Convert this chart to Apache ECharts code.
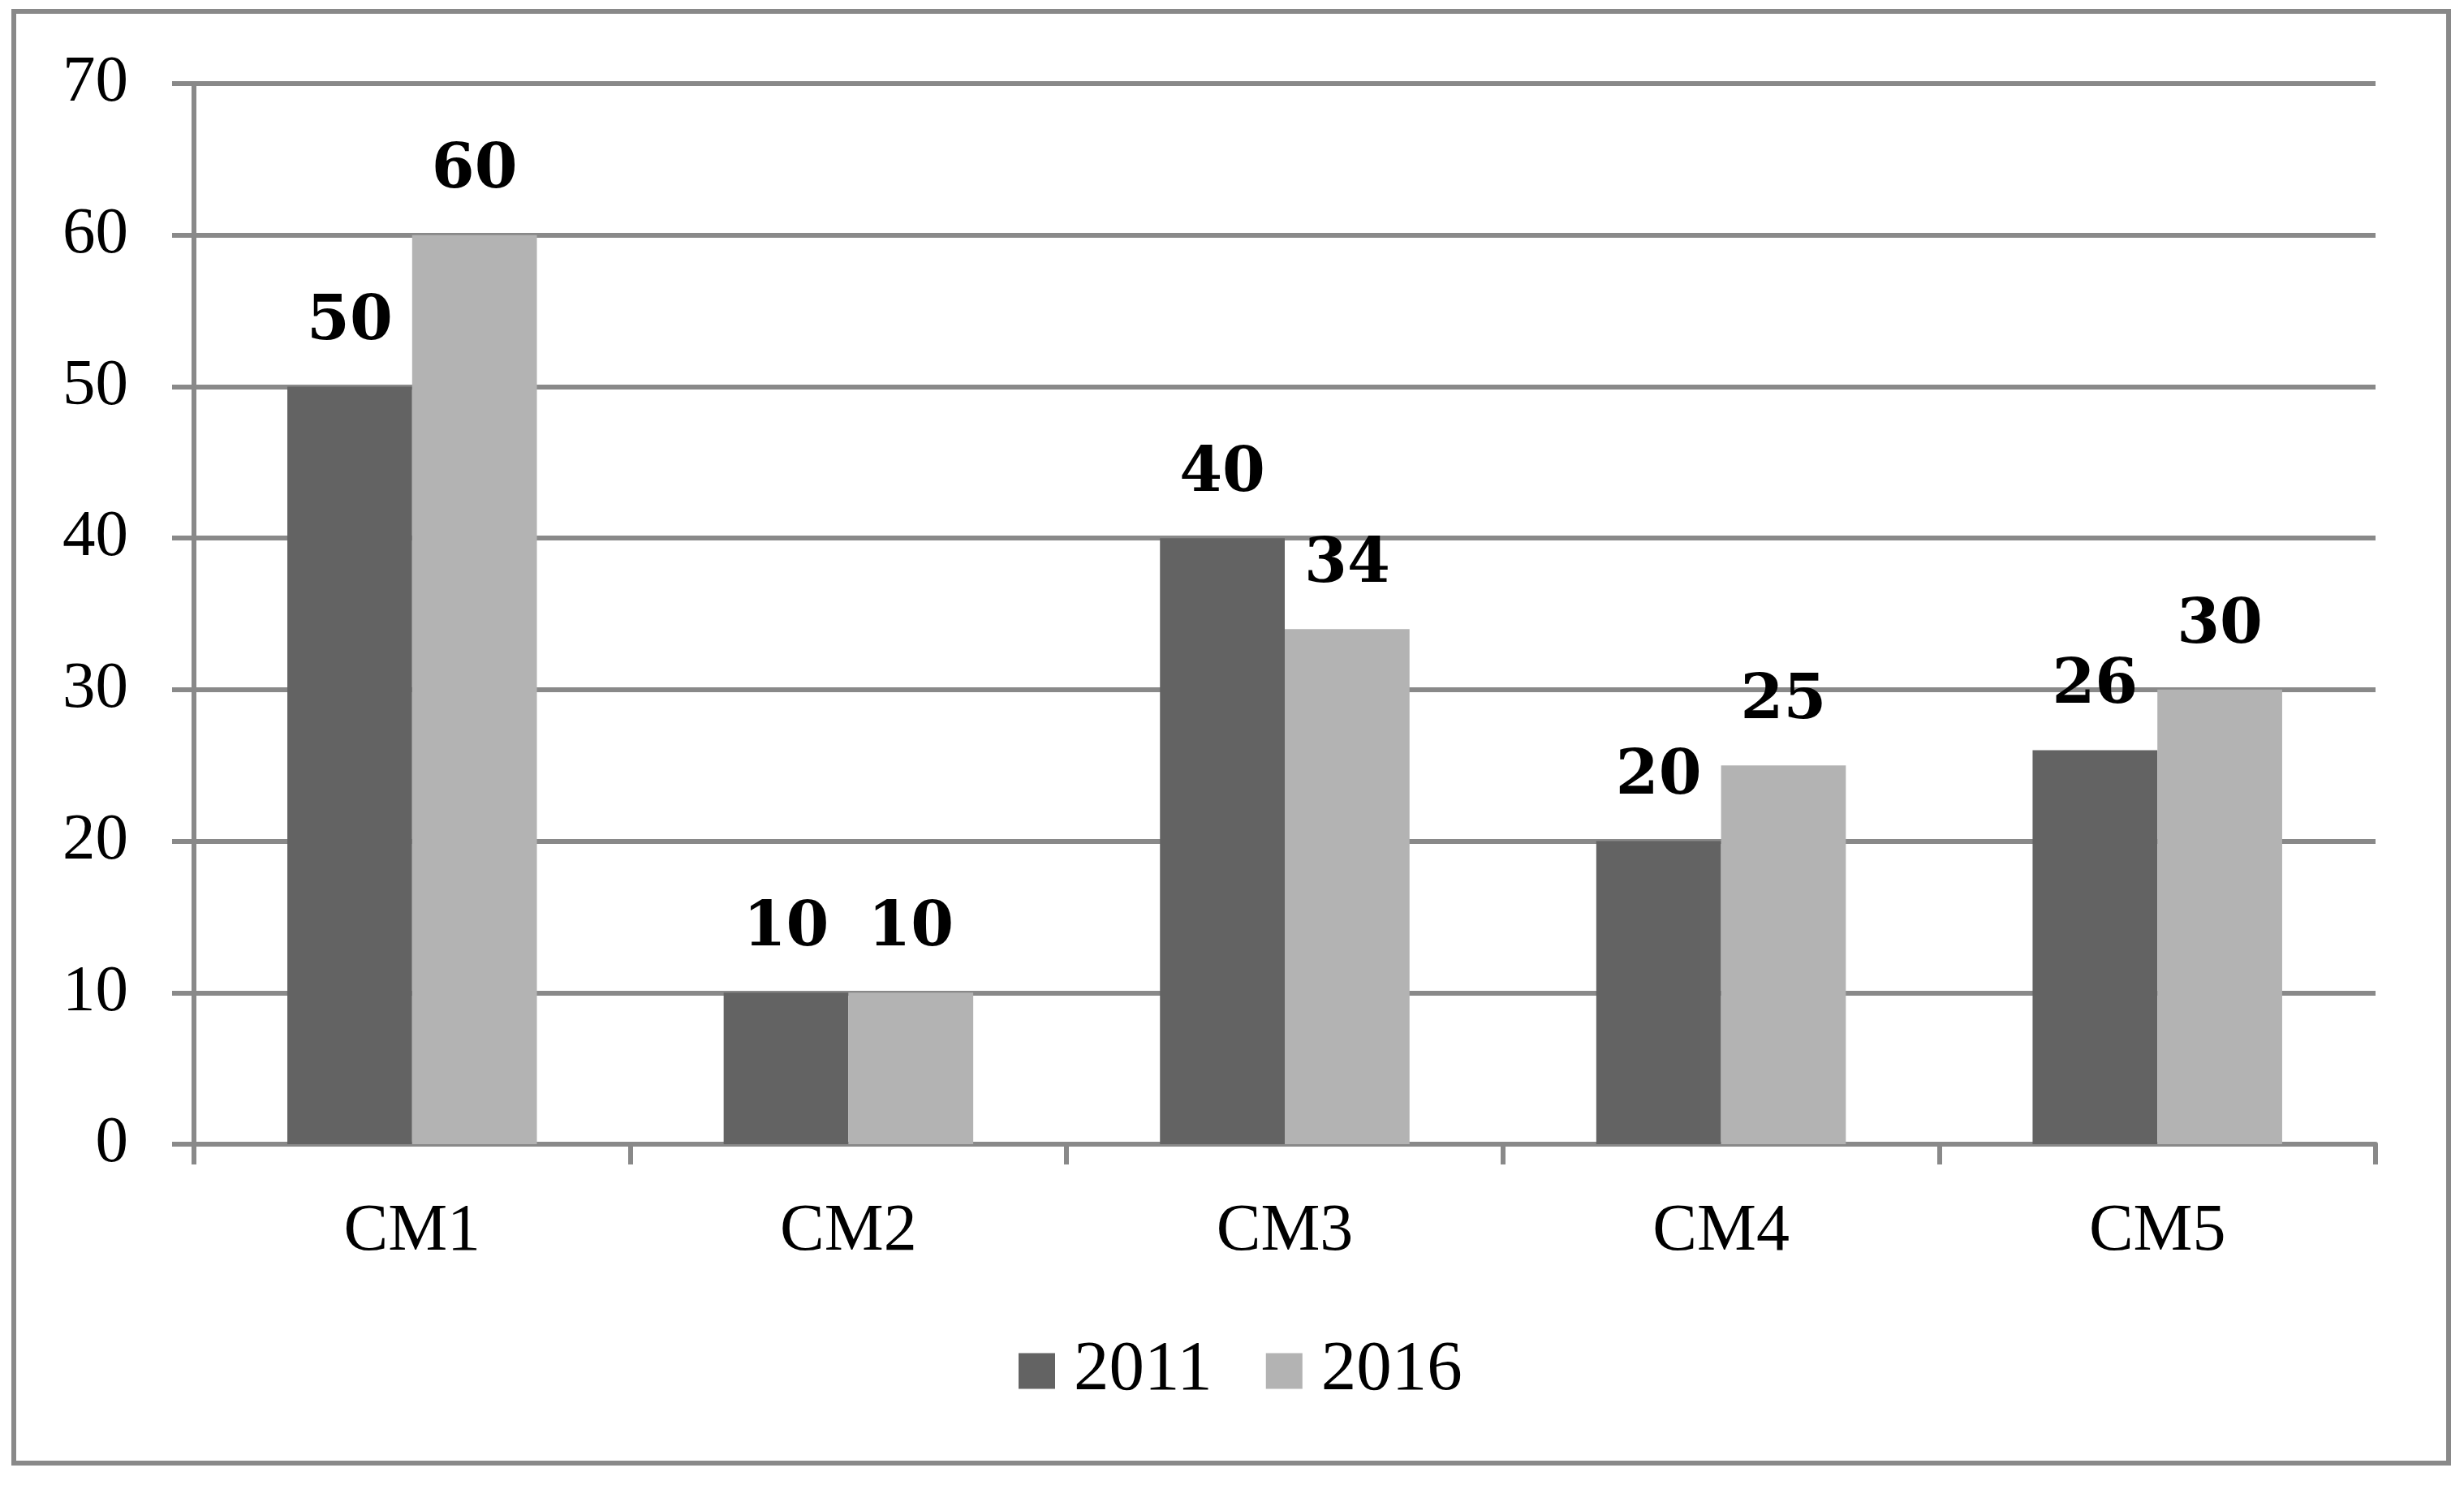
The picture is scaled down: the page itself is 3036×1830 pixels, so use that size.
<!DOCTYPE html>
<html>
<head>
<meta charset="utf-8">
<title>CM 2011 / 2016</title>
<script src="https://cdn.jsdelivr.net/npm/echarts@6/dist/echarts.min.js"></script>
<style>
	html, body { margin: 0; padding: 0; background: #fff; }
	#chart { width: 3036px; height: 1830px; }
</style>
</head>
<body>
<div id="chart"></div>
<script>
// categories and values
var categories = ['CM1', 'CM2', 'CM3', 'CM4', 'CM5'];
var seriesNames = ['2011', '2016'];
var values2011 = [50, 10, 40, 20, 26];
var values2016 = [60, 10, 34, 25, 30];
var yTicks = [0, 10, 20, 30, 40, 50, 60, 70];

var gridColor = '#898989';
var serif = 'Liberation Serif';

var chart = echarts.init(document.getElementById('chart'));

var barLabel = {
	show : true,
	position : 'top',
	distance : 40,
	color : '#000',
	fontFamily : 'DejaVu Serif',
	fontWeight : 'bold',
	fontSize : 76
};

var option = {
	animation : false,
	backgroundColor : '#fff',
	graphic : [ {
		type : 'rect',
		z : -10,
		shape : { x : 17, y : 14, width : 3000, height : 1789 },
		style : { fill : 'none', stroke : gridColor, lineWidth : 6 }
	} ],
	legend : {
		data : seriesNames,
		left : 1255,
		top : 1646,
		padding : 0,
		itemWidth : 45,
		itemHeight : 44,
		itemGap : 66,
		icon : 'rect',
		textStyle : {
			fontFamily : serif,
			fontSize : 87,
			color : '#000',
			padding : [ 0, 0, 0, 18 ]
		}
	},
	grid : {
		left : 239,
		right : 109,
		top : 103,
		bottom : 420,
		containLabel : false
	},
	xAxis : [ {
		type : 'category',
		data : categories,
		axisLine : { show : true, lineStyle : { color : gridColor, width : 6 } },
		axisTick : { show : true, length : 25, lineStyle : { color : gridColor, width : 6 } },
		axisLabel : {
			margin : 67,
			color : '#000',
			fontFamily : serif,
			fontSize : 82
		}
	} ],
	yAxis : [ {
		type : 'value',
		min : yTicks[0],
		max : yTicks[yTicks.length - 1],
		interval : 10,
		axisLine : { show : true, lineStyle : { color : gridColor, width : 6 } },
		axisTick : { show : true, length : 27, lineStyle : { color : gridColor, width : 6 } },
		axisLabel : {
			margin : 81,
			color : '#000',
			fontFamily : serif,
			fontSize : 81
		},
		splitLine : { show : true, lineStyle : { color : gridColor, width : 6 } }
	} ],
	series : [ {
		name : seriesNames[0],
		type : 'bar',
		barGap : '0%',
		barCategoryGap : '42.8%',
		itemStyle : { color : '#636363' },
		label : barLabel,
		data : values2011
	}, {
		name : seriesNames[1],
		type : 'bar',
		itemStyle : { color : '#b3b3b3' },
		label : barLabel,
		data : values2016
	} ]
};
chart.setOption(option);
</script>
</body>
</html>
